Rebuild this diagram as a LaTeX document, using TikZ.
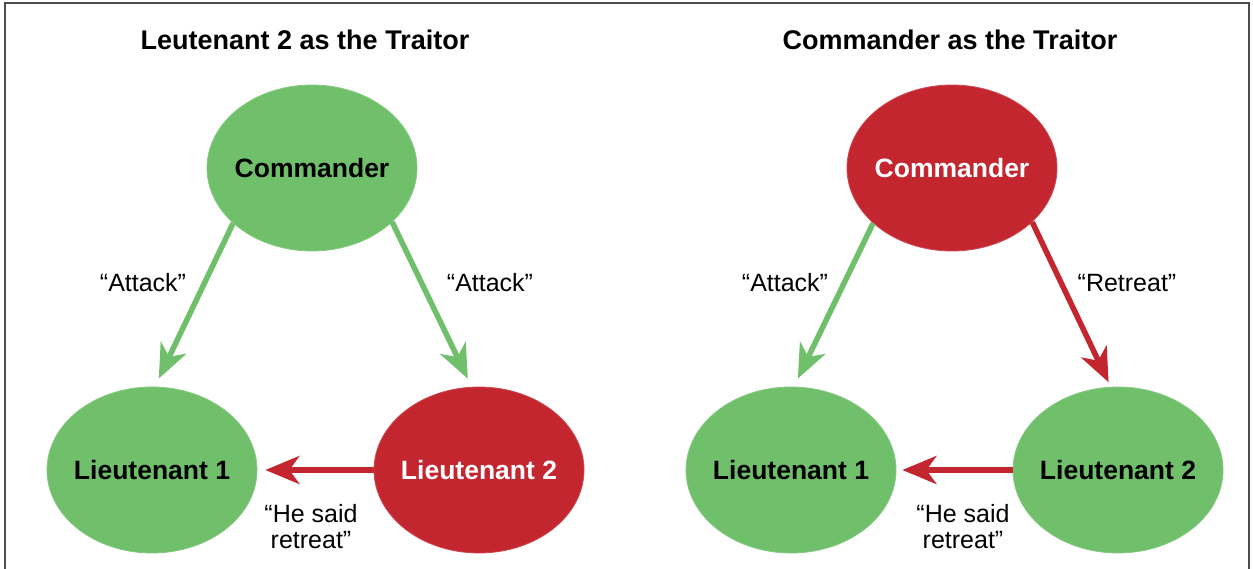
\documentclass[tikz,border=0pt]{standalone}
\usepackage{fontspec}
\setmainfont{Liberation Sans}
\usetikzlibrary{arrows.meta,shapes.geometric}
\definecolor{ggreen}{RGB}{111,191,107}
\definecolor{rred}{RGB}{196,38,48}
\tikzset{
  ell/.style={ellipse, minimum width=210pt, minimum height=166pt, inner ysep=0pt, inner xsep=-20pt,
     font=\fontsize{26.5}{30}\selectfont\bfseries},
  gnode/.style={ell, fill=ggreen, draw=ggreen!85!white, line width=0.8pt, text=black},
  rnode/.style={ell, fill=rred, draw=rred!85!white, line width=0.8pt, text=white},
  arr/.style={line width=5.5pt, -{Stealth[length=34pt,width=28pt,inset=10pt]}},
  garrow/.style={arr, draw=ggreen},
  rarrow/.style={arr, draw=rred},
  lbl/.style={font=\fontsize{25}{26}\selectfont, align=center, text=black},
  ttl/.style={font=\fontsize{27}{30}\selectfont\bfseries, text=black}
}
\begin{document}
\begin{tikzpicture}[x=1pt,y=-1pt]
\useasboundingbox (0,0) rectangle (1253,569);
\fill[white] (0,0) rectangle (1253,569);
\draw[line width=1.3pt, black!70] (5,569) -- (5,3) -- (1249,3) -- (1249,569);

% left panel
\node[ttl] (t1) at (305,40) {Leutenant 2 as the Traitor};
\node[gnode] (c1) at (312,168) {Commander};
\node[gnode] (l1) at (152,470) {Lieutenant 1};
\node[rnode] (l2) at (479,470) {Lieutenant 2};
\draw[garrow, shorten >=9pt] (c1.215) -- (l1.88);
\draw[garrow, shorten >=9pt] (c1.326) -- (l2.95);
\draw[rarrow, shorten >=8pt] (l2.west) -- (l1.east);
\node[lbl] (a1) at (143,283) {“Attack”};
\node[lbl] (a2) at (490,283) {“Attack”};
\node[lbl] (h1) at (311,527) {“He said\\retreat”};

% right panel
\node[ttl] (t2) at (950,40) {Commander as the Traitor};
\node[rnode] (c2) at (952,168) {Commander};
\node[gnode] (m1) at (791,470) {Lieutenant 1};
\node[gnode] (m2) at (1118,470) {Lieutenant 2};
\draw[garrow, shorten >=9pt] (c2.215) -- (m1.88);
\draw[rarrow, shorten >=5pt] (c2.326) -- (m2.95);
\draw[rarrow, shorten >=6pt] (m2.west) -- (m1.east);
\node[lbl] (a3) at (785,283) {“Attack”};
\node[lbl] (a4) at (1127,283) {“Retreat”};
\node[lbl] (h2) at (963,527) {“He said\\retreat”};
\end{tikzpicture}
\end{document}
